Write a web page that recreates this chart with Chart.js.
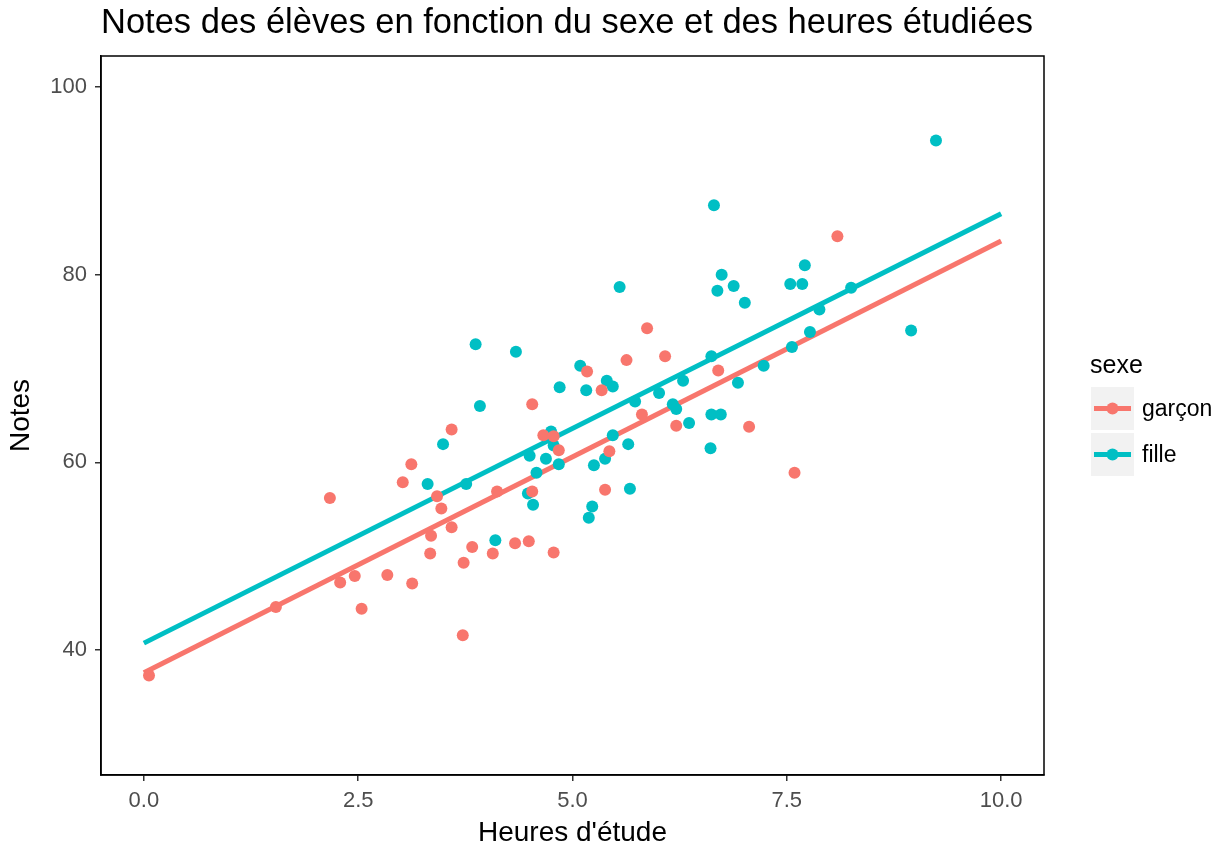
<!DOCTYPE html>
<html>
<head>
<meta charset="utf-8">
<title>Notes des élèves</title>
<script src="https://cdn.jsdelivr.net/npm/chart.js@4.4.1/dist/chart.umd.min.js"></script>
<style>
  html, body { margin: 0; padding: 0; background: #fff; }
  #wrap { width: 1226px; height: 847px; }
</style>
</head>
<body>
<div id="wrap"><canvas id="myChart" width="1226" height="847"></canvas></div>
<script>
var titre = "Notes des élèves en fonction du sexe et des heures étudiées"
var groupes = ["garçon", "fille"]
var couleurs = ["#F8766D", "#00BFC4"]

// garçons : heures d'étude / notes
var heuresGarcon = [0.06, 1.54, 2.17, 2.29, 2.46, 2.54, 2.84, 3.02, 3.12, 3.13, 3.34, 3.35, 3.42, 3.47,
    3.59, 3.59, 3.72, 3.73, 3.83, 4.07, 4.12, 4.33, 4.49, 4.53, 4.53, 4.66, 4.78, 4.78, 4.84,
    5.17, 5.34, 5.38, 5.43, 5.63, 5.81, 5.87, 6.08, 6.21, 6.70, 7.06, 7.59, 8.09]
var notesGarcon = [37.3, 44.6, 56.2, 47.2, 47.9, 44.4, 48.0, 57.9, 59.8, 47.1, 50.3, 52.2, 56.4, 55.1,
    53.1, 63.5, 41.6, 49.3, 51.0, 50.3, 56.9, 51.4, 51.6, 66.2, 56.9, 62.9, 62.8, 50.4, 61.3,
    69.7, 67.7, 57.1, 61.2, 70.9, 65.1, 74.3, 71.3, 63.9, 69.8, 63.8, 58.9, 84.1]

// filles : heures d'étude / notes
var heuresFille = [3.31, 3.49, 3.76, 3.87, 3.92, 4.10, 4.34, 4.48, 4.50, 4.54, 4.58, 4.69, 4.75, 4.78,
    4.84, 4.85, 5.09, 5.16, 5.19, 5.23, 5.25, 5.38, 5.40, 5.47, 5.47, 5.55, 5.65, 5.67, 5.73,
    6.01, 6.17, 6.21, 6.29, 6.36, 6.61, 6.62, 6.62, 6.65, 6.69, 6.73, 6.74, 6.88, 6.93, 7.01,
    7.23, 7.54, 7.56, 7.68, 7.71, 7.77, 7.88, 8.25, 8.95, 9.24]
var notesFille = [57.7, 61.95, 57.7, 72.6, 66.0, 51.7, 71.8, 56.7, 60.7, 55.5, 58.9, 60.4, 63.3, 61.8,
    59.8, 68.0, 70.3, 67.7, 54.1, 55.3, 59.7, 60.4, 68.7, 68.1, 62.9, 78.7, 61.95, 57.2, 66.5,
    67.4, 66.2, 65.7, 68.7, 64.2, 61.5, 71.3, 65.1, 87.4, 78.3, 65.1, 80.0, 78.8, 68.5, 77.0,
    70.3, 79.0, 72.3, 79.0, 81.0, 73.9, 76.3, 78.6, 74.05, 94.3]

// droites de régression (extrémités à 0 et 10 heures)
var droiteX = [0, 10]
var droiteGarcon = [37.6, 83.6]
var droiteFille = [40.75, 86.5]

var ticksX = [0, 2.5, 5, 7.5, 10]
var labelsX = ["0.0", "2.5", "5.0", "7.5", "10.0"]
var ticksY = [40, 60, 80, 100]
var labelsY = ["40", "60", "80", "100"]

var police = "'Liberation Sans', Arial, sans-serif"
Chart.defaults.font.family = police

function points(xs, ys) {
    var out = []
    for (var i = 0; i < xs.length; i++) {
        out.push({ x: xs[i], y: ys[i] })
    }
    return out
}

// titre, cadre du panneau et légende dessinés à la main
var decor = {
    id: "decor",
    afterDraw: function (chart) {
        var ctx = chart.ctx
        var a = chart.chartArea
        ctx.save()
        ctx.strokeStyle = "#000"
        ctx.lineWidth = 1.5
        ctx.strokeRect(a.left, a.top, a.right - a.left, a.bottom - a.top)

        ctx.fillStyle = "#000"
        ctx.textBaseline = "alphabetic"
        ctx.textAlign = "left"
        ctx.font = "34.5px " + police
        ctx.fillText(titre, 101, 33)

        ctx.font = "25px " + police
        ctx.fillText("sexe", 1090, 373)

        for (var i = 0; i < groupes.length; i++) {
            var by = 387 + i * 46
            var cy = by + 21.5
            ctx.fillStyle = "#F2F2F2"
            ctx.fillRect(1091, by, 43, 43)
            ctx.strokeStyle = couleurs[i]
            ctx.lineWidth = 5
            ctx.beginPath()
            ctx.moveTo(1094, cy)
            ctx.lineTo(1131, cy)
            ctx.stroke()
            ctx.fillStyle = couleurs[i]
            ctx.beginPath()
            ctx.arc(1112.5, cy, 6, 0, Math.PI * 2)
            ctx.fill()
            ctx.fillStyle = "#000"
            ctx.textBaseline = "middle"
            ctx.font = "23px " + police
            ctx.fillText(groupes[i], 1142, cy + 1)
            ctx.textBaseline = "alphabetic"
        }
        ctx.restore()
    }
}

new Chart("myChart", {
    type: "scatter",
    data: {
        datasets: [{
            label: groupes[0],
            data: points(heuresGarcon, notesGarcon),
            backgroundColor: couleurs[0],
            pointRadius: 6,
            borderWidth: 0,
            order: 0
        }, {
            label: groupes[1],
            data: points(heuresFille, notesFille),
            backgroundColor: couleurs[1],
            pointRadius: 6,
            borderWidth: 0,
            order: 0
        }, {
            type: "line",
            label: groupes[0] + " (droite)",
            data: points(droiteX, droiteGarcon),
            borderColor: couleurs[0],
            borderWidth: 5,
            pointRadius: 0,
            fill: false,
            order: 1
        }, {
            type: "line",
            label: groupes[1] + " (droite)",
            data: points(droiteX, droiteFille),
            borderColor: couleurs[1],
            borderWidth: 5,
            pointRadius: 0,
            fill: false,
            order: 1
        }]
    },
    options: {
        responsive: false,
        animation: false,
        devicePixelRatio: 1,
        events: [],
        layout: { padding: { left: 0, right: 182, top: 56, bottom: 0 } },
        plugins: {
            legend: { display: false },
            title: { display: false },
            tooltip: { enabled: false }
        },
        scales: {
            x: {
                type: "linear",
                min: -0.5,
                max: 10.5,
                afterBuildTicks: function (s) {
                    s.ticks = ticksX.map(function (v) { return { value: v } })
                },
                afterFit: function (s) { s.height = 72 },
                ticks: {
                    callback: function (v, i) { return labelsX[i] },
                    color: "#4D4D4D",
                    font: { size: 22 },
                    padding: 7,
                    maxRotation: 0,
                    autoSkip: false
                },
                grid: { drawOnChartArea: false, tickLength: 6, color: "#333333", lineWidth: 1.5 },
                border: { color: "#000", width: 1.5 },
                title: {
                    display: true,
                    text: "Heures d'étude",
                    color: "#000",
                    font: { size: 28, lineHeight: 1 },
                    padding: { top: 0, bottom: 0 }
                }
            },
            y: {
                min: 26.7,
                max: 103.3,
                afterBuildTicks: function (s) {
                    s.ticks = ticksY.map(function (v) { return { value: v } })
                },
                afterFit: function (s) { s.width = 101 },
                ticks: {
                    callback: function (v, i) { return labelsY[i] },
                    color: "#4D4D4D",
                    font: { size: 22 },
                    padding: 8,
                    autoSkip: false
                },
                grid: { drawOnChartArea: false, tickLength: 6, color: "#333333", lineWidth: 1.5 },
                border: { color: "#000", width: 1.5 },
                title: {
                    display: true,
                    text: "Notes",
                    color: "#000",
                    font: { size: 28, lineHeight: 1 },
                    padding: { top: 7, bottom: 0 }
                }
            }
        }
    },
    plugins: [decor]
});
</script>
</body>
</html>
